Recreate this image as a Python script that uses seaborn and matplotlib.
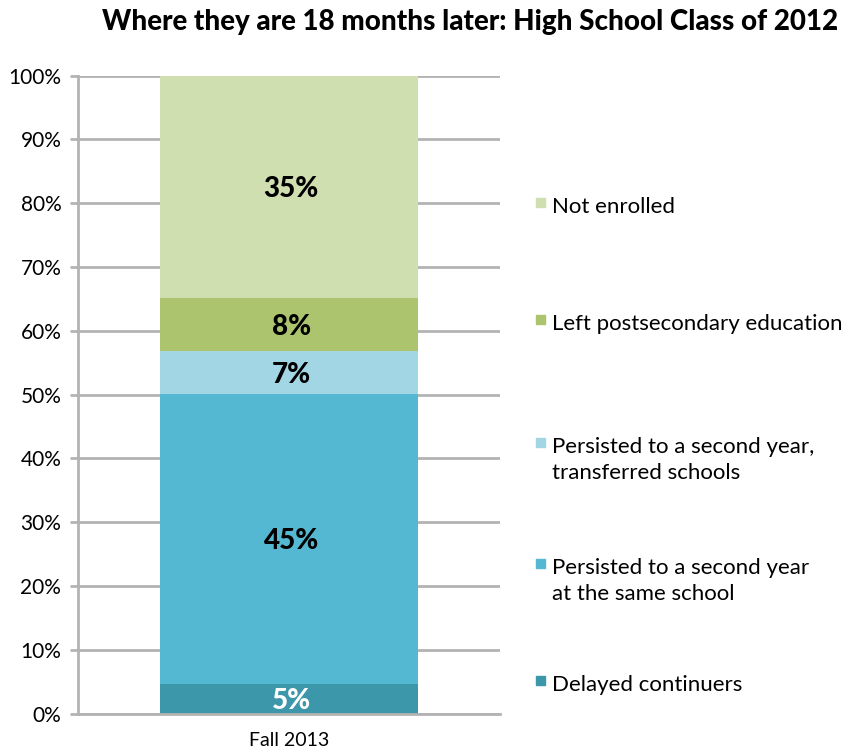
import matplotlib
matplotlib.use("Agg")
import matplotlib.pyplot as plt
import seaborn as sns
import pandas as pd
import numpy as np
from matplotlib.patches import Rectangle

categories = ["Delayed continuers",
              "Persisted to a second year\nat the same school",
              "Persisted to a second year,\ntransferred schools",
              "Left postsecondary education",
              "Not enrolled"]
values = [4.7, 45.4, 6.8, 8.3, 34.8]
labels = ["5%", "45%", "7%", "8%", "35%"]
label_colors = ["white", "black", "black", "black", "black"]
colors = ["#3C97AB", "#55B8D2", "#A3D6E4", "#ACC46E", "#CFDFAF"]
period = ["Fall 2013"]
yticks = list(range(0, 101, 10))

sns.set_theme(style="white")
plt.rcParams['font.family'] = ['Lato', 'DejaVu Sans']

fig = plt.figure(figsize=(8.46, 7.5), dpi=100)
ax = fig.add_axes([78/846, 1-713.5/750, (500-78)/846, (713.5-75.7)/750])

bottoms = np.concatenate([[0], np.cumsum(values)[:-1]])
df = pd.DataFrame({"period": period * len(values), "value": values,
                   "cat": categories, "bottom": bottoms})

for i, row in df.iterrows():
    ax.bar(row["period"], row["value"], bottom=row["bottom"], width=0.61,
           color=colors[i], edgecolor="none", zorder=3)
    ax.text(0.005, row["bottom"] + row["value"] / 2, labels[i], ha="center",
            va="center_baseline", fontsize=20, fontweight=900, color=label_colors[i], zorder=4)

ax.set_xlim(-0.5, 0.5)
ax.set_ylim(0, 100)
ax.set_yticks(yticks)
ax.set_yticklabels([f"{t}%" for t in yticks], fontsize=15)
ax.yaxis.grid(True, color="#B3B3B3", linewidth=2, zorder=0)
ax.tick_params(axis="y", which="both", left=True, length=6, width=2, color="#B3B3B3", pad=6)
ax.tick_params(axis="x", bottom=False, labelsize=14, pad=7)
for s in ["top", "right"]:
    ax.spines[s].set_visible(False)
for s in ["left", "bottom"]:
    ax.spines[s].set_color("#B3B3B3")
    ax.spines[s].set_linewidth(2)
ax.spines["bottom"].set_zorder(5)
ax.set_xlabel("")
ax.set_ylabel("")
for lab in ax.get_yticklabels() + ax.get_xticklabels():
    lab.set_color("black")

# legend
leg_tops = [676, 559, 438, 315, 198]
for i in range(len(categories)):
    y = leg_tops[i]
    fig.patches.append(Rectangle((536/846, 1-(y+9)/750), 9/846, 9/750,
                                 transform=fig.transFigure, color=colors[i]))
    fig.text(552/846, 1-(y-1)/750, categories[i], ha="left", va="top",
             fontsize=16, color="black", linespacing=1.35)

fig.text(838/846, 1-22/750, "Where they are 18 months later: High School Class of 2012",
         ha="right", va="center", fontsize=20, fontweight=900, color="black")

fig.savefig("out.png", dpi=100)
